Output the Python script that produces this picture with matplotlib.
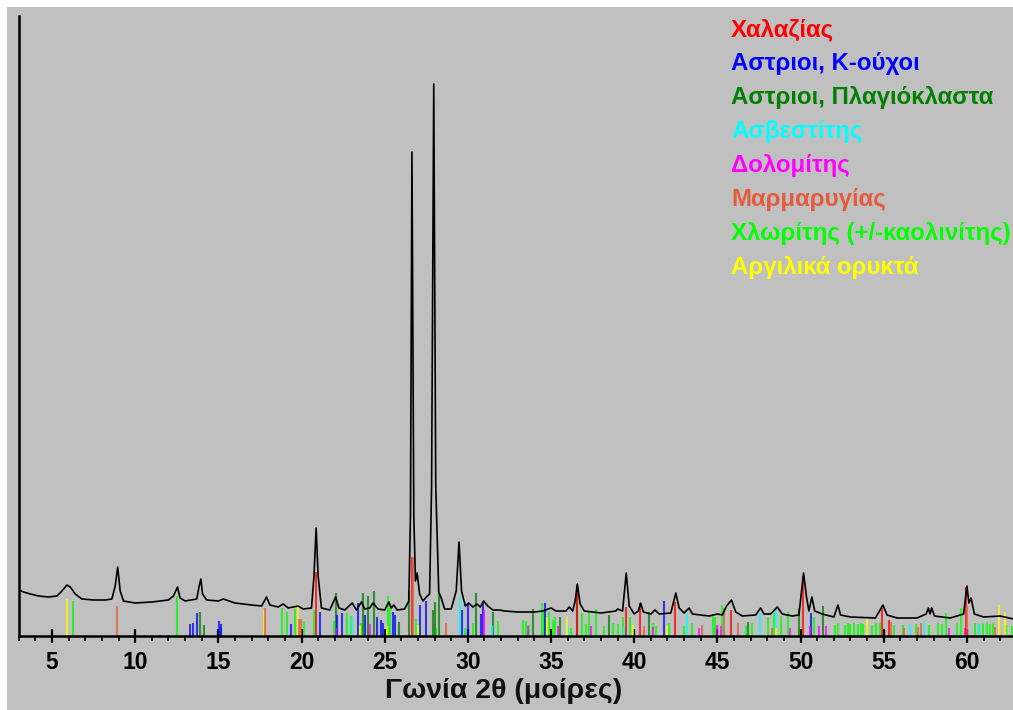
import matplotlib
matplotlib.use("Agg")
import matplotlib.pyplot as plt
from matplotlib.patches import Rectangle
from matplotlib.ticker import MultipleLocator

plt.rcParams['font.family'] = ['Liberation Sans', 'DejaVu Sans']

# ---------------- data ----------------
# measured diffraction profile: 2theta and intensity (arbitrary units)
prof_x = [3.0, 3.3, 3.7, 4.2, 4.8, 5.3, 5.6, 5.9, 6.1, 6.4, 6.8, 7.5, 8.2, 8.6, 8.8, 8.95, 9.1, 9.3,
          10.0, 11.0, 12.0, 12.3, 12.55, 12.7, 13.0, 13.7, 13.85, 13.95, 14.05, 14.3, 15.0, 15.3, 16.0,
          17.0, 17.6, 17.9, 18.1, 18.6, 18.9, 19.2, 19.8, 20.1, 20.6, 20.75, 20.88, 21.0, 21.2, 21.7,
          22.05, 22.25, 22.6, 23.05, 23.3, 23.6, 23.8, 24.1, 24.3, 24.6, 25.0, 25.25, 25.4, 25.55, 25.75,
          26.2, 26.45, 26.55, 26.64, 26.75, 26.85, 26.95, 27.1, 27.3, 27.5, 27.7, 27.82, 27.95, 28.07,
          28.25, 28.4, 28.6, 29.0, 29.3, 29.47, 29.62, 29.85, 30.05, 30.3, 30.55, 30.75, 30.95, 31.2,
          31.5, 31.9, 32.2, 33.0, 34.0, 34.5, 35.0, 35.3, 35.9, 36.1, 36.3, 36.45, 36.58, 36.75, 37.0,
          38.0, 38.9, 39.0, 39.3, 39.52, 39.7, 40.0, 40.25, 40.38, 40.55, 41.0, 41.25, 41.5, 42.2, 42.5,
          42.7, 43.0, 43.3, 43.5, 44.5, 45.0, 45.3, 45.55, 45.85, 46.1, 46.5, 47.3, 47.6, 47.8, 48.2,
          48.6, 48.9, 49.5, 49.9, 50.18, 50.35, 50.5, 50.68, 50.85, 51.3, 52.0, 52.25, 52.4, 53.0, 54.5,
          54.95, 55.2, 55.8, 57.0, 57.55, 57.68, 57.78, 57.88, 58.05, 59.0, 59.8, 60.0, 60.12, 60.25,
          60.45, 61.0, 62.0, 62.8]
prof_y = [46, 44, 42, 40, 39, 40, 45, 51, 49, 42, 37, 36, 36, 37, 50, 69, 45, 35,
          33, 34, 36, 40, 49, 38, 35, 37, 50, 57, 42, 36, 35, 37, 33,
          31, 30, 39, 31, 29, 32, 28, 30, 27, 28, 60, 108, 60, 28, 26,
          39, 28, 26, 33, 26, 34, 27, 28, 33, 27, 26, 34, 28, 31, 26,
          27, 35, 120, 484, 120, 55, 63, 42, 35, 39, 42, 150, 552, 150,
          44, 38, 27, 27, 45, 94, 45, 30, 33, 29, 32, 29, 35, 30,
          26, 26, 25, 24, 24, 25, 28, 25, 25, 29, 25, 35, 52, 32, 25,
          23, 25, 27, 25, 63, 30, 22, 25, 33, 24, 22, 26, 22, 23, 43,
          28, 23, 28, 22, 20, 22, 21, 30, 36, 24, 20, 21, 28, 22, 22,
          29, 22, 20, 21, 63, 40, 25, 39, 25, 22, 19, 31, 21, 19, 18,
          31, 21, 18, 18, 22, 28, 22, 28, 20, 18, 22, 50, 33, 38,
          22, 19, 20, 17]

# reference phase lines: positions (2theta) and heights
quartz_x = [20.89, 26.64, 36.56, 39.50, 40.32, 42.47, 45.82, 50.16, 54.88, 55.33, 59.96]
quartz_h = [64, 79, 49, 29, 33, 34, 26, 60, 28, 16, 49]

kfeld_x = [13.30, 13.50, 13.70, 15.04, 15.14, 19.35, 21.11, 22.12, 22.45, 23.41, 23.82, 24.52, 24.78,
           24.92, 25.52, 25.62, 27.11, 27.51, 29.67, 30.01, 30.79, 30.89, 34.66, 41.80, 50.64]
kfeld_h = [12, 13, 23, 15, 12, 12, 24, 21, 23, 33, 21, 19, 16,
           13, 24, 21, 31, 35, 26, 33, 22, 33, 33, 35, 23]

plag_x = [13.90, 14.14, 15.18, 22.05, 23.68, 24.02, 24.36, 25.88, 26.48, 27.88, 28.01, 28.28, 30.49,
          31.53, 33.93, 35.56, 36.56, 38.50, 40.90, 46.86, 49.92, 51.36]
plag_h = [24, 11, 8, 43, 43, 40, 45, 14, 45, 26, 34, 44, 43,
          24, 27, 19, 51, 21, 24, 14, 28, 30]

calcite_x = [23.06, 29.51, 31.47, 36.00, 39.40, 43.17, 47.56, 48.55, 56.60, 57.40, 60.70]
calcite_h = [19, 39, 11, 10, 10, 23, 23, 26, 12, 15, 12]

dolomite_x = [22.05, 24.12, 30.99, 33.60, 35.40, 37.43, 41.15, 43.87, 45.00, 45.20, 49.38, 50.55,
              51.10, 51.50, 58.90, 59.90]
dolomite_h = [8, 12, 26, 10, 10, 10, 9, 8, 11, 10, 8, 10, 10, 10, 8, 8]

mica_x = [8.91, 17.80, 19.85, 19.95, 26.72, 28.68, 40.60, 44.07, 45.42, 46.22, 48.30, 55.45, 56.20,
          57.05, 57.24, 60.00, 61.70]
mica_h = [30, 28, 17, 17, 79, 13, 10, 11, 28, 13, 8, 14, 8, 9, 13, 30, 9]

chlorite_x = [6.26, 12.53, 18.81, 19.11, 19.61, 20.15, 20.75, 21.95, 22.75, 22.96, 23.55, 25.22, 25.32,
              26.91, 28.10, 29.80, 30.31, 31.79, 33.29, 33.49, 33.69, 34.46, 34.60, 34.85, 35.10,
              35.26, 36.20, 36.89, 37.10, 37.28, 37.70, 38.16, 38.70, 39.00, 39.34, 39.75, 41.15,
              41.30, 42.10, 42.97, 43.47, 44.73, 44.83, 45.30, 46.70, 47.10, 48.02, 48.42, 48.80,
              49.23, 50.80, 52.06, 52.23, 52.65, 52.85, 53.00, 53.20, 53.45, 53.61, 53.75, 54.28,
              54.55, 54.76, 55.60, 56.16, 56.96, 57.70, 58.26, 58.50, 58.72, 59.42, 59.66, 60.48,
              60.74, 60.98, 61.18, 61.37, 61.57, 62.37, 62.68]
chlorite_h = [35, 40, 28, 24, 27, 15, 26, 15, 23, 20, 13, 40, 30,
              17, 8, 8, 13, 15, 16, 15, 11, 33, 24, 24, 16,
              19, 8, 23, 12, 24, 27, 10, 13, 12, 19, 19, 13,
              10, 13, 10, 13, 21, 19, 31, 10, 13, 19, 23, 20,
              24, 19, 11, 13, 11, 13, 12, 13, 12, 13, 12, 11,
              13, 13, 11, 11, 12, 11, 13, 12, 23, 13, 28, 13,
              12, 13, 14, 12, 13, 11, 10]

clay_x = [5.90, 17.72, 19.79, 23.50, 25.15, 27.00, 34.76, 35.96, 39.94, 41.95, 48.50, 53.97, 61.90, 62.26]
clay_h = [37, 26, 32, 10, 10, 11, 19, 19, 11, 10, 8, 19, 31, 23]

phase_names = ['Χαλαζίας', 'Αστριοι, K-ούχοι', 'Αστριοι, Πλαγιόκλαστα', 'Ασβεστίτης',
               'Δολομίτης', 'Μαρμαρυγίας', 'Χλωρίτης (+/-καολινίτης)', 'Αργιλικά ορυκτά']
phase_colors = ['#FF0000', '#0000FF', '#007F00', '#00FFFF', '#FF00FF', '#E55B3C', '#00FF00', '#FFFF00']

xticks = [5, 10, 15, 20, 25, 30, 35, 40, 45, 50, 55, 60]
x_label = 'Γωνία 2θ (μοίρες)'

# ---------------- figure ----------------
W, H = 1013, 710
fig = plt.figure(figsize=(W / 100, H / 100), dpi=100, facecolor='white')
fig.patches.append(Rectangle((7 / W, 0), 1, 1 - 7 / H, transform=fig.transFigure,
                             facecolor='#C0C0C0', edgecolor='none', zorder=-10))

x0, x1 = 3.0, 62.77
ax = fig.add_axes([18.7 / W, 74 / H, 1 - 18.7 / W, 620 / H])
ax.set_facecolor('none')
ax.set_xlim(x0, x1)
ax.set_ylim(0, 620)

phases = [(quartz_x, quartz_h), (kfeld_x, kfeld_h), (plag_x, plag_h), (calcite_x, calcite_h),
          (dolomite_x, dolomite_h), (mica_x, mica_h), (chlorite_x, chlorite_h), (clay_x, clay_h)]
order = [6, 2, 1, 3, 4, 7, 0, 5]
for i in order:
    px, ph = phases[i]
    ax.vlines(px, 0, ph, colors=phase_colors[i], linewidth=1.5, alpha=0.75, zorder=2)

ax.plot(prof_x, prof_y, color='black', linewidth=1.2, zorder=3)

for s in ['top', 'right']:
    ax.spines[s].set_visible(False)
ax.spines['left'].set_linewidth(1.8)
ax.spines['bottom'].set_linewidth(1.8)
ax.set_yticks([])
ax.set_xticks(xticks)
ax.set_xticklabels([str(t) for t in xticks])
ax.xaxis.set_minor_locator(MultipleLocator(1))
ax.tick_params(axis='x', which='major', direction='inout', length=10, width=1.6,
               labelsize=16.5, pad=5.5)
ax.tick_params(axis='x', which='minor', direction='out', length=3.6, width=1.2)
for lab in ax.get_xticklabels():
    lab.set_fontweight('bold')

fig.text(504 / W, 1 - 698 / H, x_label, ha='center', va='baseline',
         fontsize=20.5, fontweight='bold', color='#111111')

for k, (name, col) in enumerate(zip(phase_names, phase_colors)):
    fig.text(731 / W, 1 - (36 + 34 * k) / H, name, ha='left', va='baseline',
             fontsize=17.3, fontweight='bold', color=col)

fig.savefig('out.png', dpi=100, facecolor=fig.get_facecolor())
